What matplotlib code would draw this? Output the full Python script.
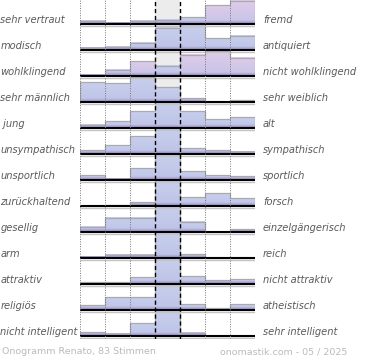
import numpy as np
import matplotlib
matplotlib.use('Agg')
import matplotlib.pyplot as plt
from matplotlib import transforms
from matplotlib.colors import to_rgb


# Onogramm data: bar levels per row (0..26, 26 = full row height)
left_labels = ['sehr vertraut', 'modisch', 'wohlklingend', 'sehr männlich', ' jung',
               'unsympathisch', 'unsportlich', 'zurückhaltend', 'gesellig', 'arm',
               'attraktiv', 'religiös', 'nicht intelligent']
right_labels = ['fremd', 'antiquiert', 'nicht wohlklingend', 'sehr weiblich', 'alt',
                'sympathisch', 'sportlich', 'forsch', 'einzelgängerisch', 'reich',
                'nicht attraktiv', 'atheistisch', 'sehr intelligent']
levels = [
    [3.7, 1.7, 3.7, 4.3, 7.0, 19.0, 23.3],
    [2.3, 3.7, 7.7, 22.3, 24.3, 12.0, 14.7],
    [1.7, 6.3, 15.0, 10.3, 21.3, 25.0, 18.7],
    [20.0, 19.0, 25.0, 15.0, 4.0, 0.0, 2.0],
    [3.6, 7.0, 17.0, 26.0, 17.0, 9.0, 11.0],
    [4.0, 8.7, 17.7, 26.0, 5.7, 3.7, 2.3],
    [5.0, 1.3, 12.0, 26.0, 9.0, 5.0, 4.0],
    [0.0, 1.0, 3.7, 26.0, 8.7, 13.0, 8.0],
    [5.3, 14.3, 14.3, 26.0, 10.3, 0.0, 2.7],
    [1.3, 3.3, 3.3, 26.0, 4.0, 0.0, 0.0],
    [1.7, 1.7, 6.7, 26.0, 7.7, 3.7, 5.0],
    [4.7, 13.0, 13.0, 26.0, 6.0, 2.0, 6.0],
    [3.7, 2.3, 12.7, 26.0, 3.3, 0.0, 0.0],
]
footer_left = 'Onogramm Renato, 83 Stimmen'
footer_right = 'onomastik.com - 05 / 2025'

ROW_MAX = 26.0
# bars drawn with the pinkish tint (row, column)
pink_bars = {(0, 5), (0, 6), (2, 2), (2, 4), (2, 5), (2, 6)}

BLUE_TOP, BLUE_BOT = '#c8cfed', '#bdc3e6'
PINK_TOP, PINK_BOT = '#e0cbea', '#c5c4e7'
STRIPE = '#a193cc'

W, H = 370, 360
fig = plt.figure(figsize=(W / 100, H / 100), dpi=100, facecolor='white')
n_rows = len(levels)
ax = fig.add_axes([80 / W, 21 / H, 175 / W, 1 - 21 / H])
ax.set_axis_off()

y_bottom = -3.0 / ROW_MAX
y_top = (n_rows - 1) + 24.3 / ROW_MAX

# grey centre column
ax.axvspan(3, 4, color='#ececec', zorder=0, lw=0)


def gradient(h_px, top, bot, n=64):
    z = np.linspace(h_px, 0, n)[:, None]
    frac = np.clip(z / max(h_px, 1e-6), 0, 1)
    t, b, s = np.array(to_rgb(top)), np.array(to_rgb(bot)), np.array(to_rgb(STRIPE))
    col = b + (t - b) * frac
    stripe_w = np.clip(1 - (z - 1.0) / 2.5, 0, 1)
    col = col * (1 - stripe_w) + s * stripe_w
    return col[:, None, :].repeat(2, axis=1)


xs = np.arange(7)
for i, row in enumerate(levels):
    base = (n_rows - 1) - i
    vals = np.minimum(np.array(row), ROW_MAX) / ROW_MAX
    bars = ax.bar(xs + 0.5, vals, width=1.0, bottom=base, color='none', lw=0, zorder=2)
    for j, b in enumerate(bars):
        h = b.get_height()
        if h <= 0:
            continue
        top, bot = (PINK_TOP, PINK_BOT) if (i, j) in pink_bars else (BLUE_TOP, BLUE_BOT)
        ax.imshow(gradient(h * ROW_MAX, top, bot),
                  extent=[b.get_x(), b.get_x() + b.get_width(), base, base + h],
                  aspect='auto', interpolation='bilinear', zorder=2)
    ax.stairs(vals + base, np.arange(8), baseline=base, color='#aaaaaa',
              lw=0.9, zorder=3)
    ax.hlines(base - 1.6 / ROW_MAX, 0, 7, color='#c4c4c4', lw=1.0, zorder=4)
    ax.hlines(base, 0, 7, color='black', lw=1.5, zorder=5)

# grid lines
ax.vlines([0, 1, 2, 5, 6, 7], y_bottom, y_top, color='#777777', lw=0.7,
          linestyles=(0, (1, 1.5)), zorder=6)
ax.vlines([3, 4], y_bottom, y_top, color='black', lw=1.0,
          linestyles=(0, (3, 2)), zorder=6)

ax.set_xlim(0, 7)
ax.set_ylim(y_bottom, y_top)

# labels
tr = transforms.blended_transform_factory(fig.transFigure, ax.transData)
for i, (l, r) in enumerate(zip(left_labels, right_labels)):
    base = (n_rows - 1) - i + 1.0 / ROW_MAX
    ax.text(0.5 / W, base, l, transform=tr, fontsize=7.1, style='italic',
            color='#5a5a5a', ha='left', va='baseline')
    ax.text(263 / W, base, r, transform=tr, fontsize=7.1, style='italic',
            color='#5a5a5a', ha='left', va='baseline')

fig.text(1.5 / W, 1 - 352 / H, footer_left, fontsize=6.8, color='#bbbbbb',
         ha='left', va='center')
fig.text(347 / W, 1 - 352 / H, footer_right, fontsize=6.8, color='#bbbbbb',
         ha='right', va='center')

fig.savefig('out.png', dpi=100, facecolor='white')
